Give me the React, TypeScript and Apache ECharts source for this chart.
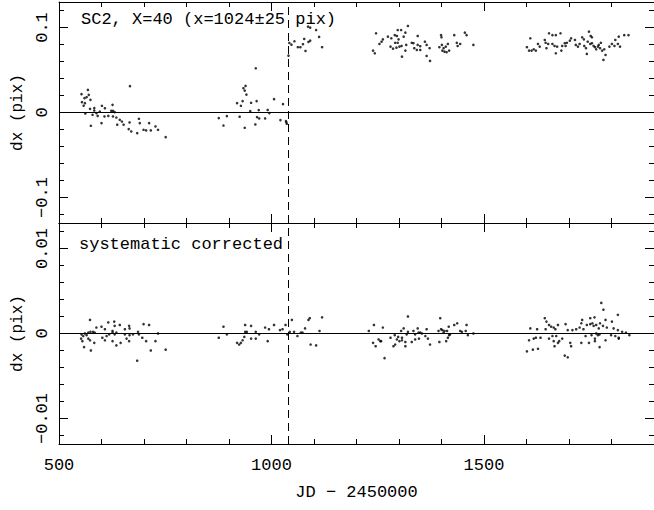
import React, { useEffect, useRef } from "react";
import * as echarts from "echarts";

// ---- axes ----
const X_MIN = 500;
const X_MAX = 1900;
const X_MAJOR = [500, 1000, 1500];
const X_MINOR = [600, 700, 800, 900, 1100, 1200, 1300, 1400, 1600, 1700, 1800];
const TOP_LIMIT = 0.13;
const TOP_MAJOR = [-0.1, 0, 0.1];
const TOP_MINOR = [-0.12, -0.08, -0.06, -0.04, -0.02, 0.02, 0.04, 0.06, 0.08, 0.12];
const BOT_LIMIT = 0.013;
const BOT_MAJOR = [-0.01, 0, 0.01];
const BOT_MINOR = [-0.012, -0.008, -0.006, -0.004, -0.002, 0.002, 0.004, 0.006, 0.008, 0.012];
const DASH_JD = 1040;

const TOP_TITLE = "SC2, X=40 (x=1024\u00b125 pix)";
const BOT_TITLE = "systematic corrected";
const Y_NAME = "dx (pix)";
const X_NAME = "JD \u2212 2450000";

// ---- data: [JD-2450000, dx] ----
const topSeason1 = [
  [667, 0.031], [568, 0.0266], [553, 0.0216], [570, 0.0208], [560, 0.0169], [574, 0.0149], [554, 0.0122],
  [561, 0.011], [573, 0.0043], [583, 0.0052], [583, 0.0023], [601, 0.0079], [608, 0.005], [626, 0.009],
  [623, 0.002], [627, 0.002], [631, 0.0005], [562, -0.0012], [579, -0.0027], [588, -0.0007], [591, -0.004],
  [607, -0.0047], [616, -0.004], [627, -0.0047], [635, -0.0059], [643, -0.0086], [575, -0.0156], [600, -0.0125],
  [637, -0.0144], [648, -0.0106], [652, -0.0144], [666, -0.0117], [664, -0.0195], [670, -0.0223], [688, -0.0074],
  [690, -0.0125], [684, -0.0242], [699, -0.0203], [705, -0.0211], [716, -0.0211], [712, -0.0125], [727, -0.0164],
  [733, -0.0203], [751, -0.0289], [558, 0.008], [565, 0.018], [596, 0.001],
];
const topSeason2 = [
  [963, 0.052], [939, 0.0313], [934, 0.0286], [937, 0.0258], [941, 0.0211], [932, 0.0134], [965, 0.0134],
  [1006, 0.0157], [919, 0.011], [928, 0.0079], [952, 0.0114], [1027, 0.0099], [950, 0.0016], [970, 0.0028],
  [991, 0.003], [995, -0.0007], [966, -0.0054], [971, -0.007], [985, -0.007], [925, -0.005], [895, -0.0042],
  [876, -0.0066], [887, -0.0153], [937, -0.018], [962, -0.0141], [1021, -0.0089], [1034, -0.0101],
  [1036, -0.0133], [1035, -0.0115],
  [1040, 0.0669], [1042, 0.0818], [1047, 0.0798], [1054, 0.0838], [1062, 0.0768], [1068, 0.0768],
  [1074, 0.0803], [1077, 0.0865], [1080, 0.0724], [1087, 0.083], [1091, 0.0845], [1086, 0.101], [1091, 0.0998],
  [1105, 0.097], [1112, 0.0889], [1119, 0.0768],
];
const topSeason3 = [
  [1321, 0.1018], [1297, 0.097], [1305, 0.097], [1315, 0.0939], [1246, 0.0932], [1290, 0.091], [1295, 0.09],
  [1311, 0.0892], [1344, 0.09], [1282, 0.0873], [1299, 0.0861], [1262, 0.0861], [1259, 0.0833], [1254, 0.0806],
  [1399, 0.091], [1400, 0.0885], [1430, 0.091], [1455, 0.0939], [1459, 0.091], [1291, 0.082], [1297, 0.082],
  [1317, 0.0795], [1330, 0.082], [1334, 0.0815], [1344, 0.0795], [1350, 0.078], [1361, 0.0833], [1365, 0.0795],
  [1372, 0.0756], [1301, 0.0775], [1306, 0.0783], [1286, 0.0751], [1315, 0.0728], [1336, 0.0756], [1342, 0.0736],
  [1350, 0.0736], [1401, 0.0795], [1395, 0.0768], [1405, 0.0756], [1410, 0.0775], [1415, 0.0806], [1407, 0.0716],
  [1412, 0.0709], [1418, 0.0728], [1402, 0.0728], [1436, 0.082], [1438, 0.0783], [1444, 0.0806], [1475, 0.0795],
  [1239, 0.0728], [1243, 0.0697], [1307, 0.0657], [1365, 0.0665], [1373, 0.0607], [1274, 0.0892], [1280, 0.0775],
  [1294, 0.0763],
];
const topSeason4 = [
  [1747, 0.0951], [1661, 0.091], [1669, 0.091], [1680, 0.0932], [1653, 0.0932], [1751, 0.09], [1754, 0.0885],
  [1830, 0.091], [1840, 0.091], [1609, 0.0873], [1705, 0.0873], [1702, 0.0845], [1731, 0.0885], [1735, 0.0861],
  [1817, 0.0892], [1809, 0.0853], [1643, 0.0853], [1645, 0.082], [1651, 0.0806], [1661, 0.0806], [1666, 0.0783],
  [1672, 0.0775], [1690, 0.0815], [1695, 0.082], [1692, 0.0783], [1684, 0.0783], [1627, 0.0806], [1631, 0.0775],
  [1617, 0.0744], [1622, 0.0728], [1612, 0.0728], [1601, 0.0768], [1606, 0.0728], [1647, 0.0756], [1669, 0.0697],
  [1682, 0.0728], [1716, 0.0795], [1721, 0.0775], [1725, 0.0806], [1744, 0.0833], [1750, 0.0806], [1754, 0.0815],
  [1758, 0.0783], [1761, 0.0768], [1764, 0.0744], [1768, 0.0775], [1773, 0.0756], [1778, 0.0728], [1783, 0.0744],
  [1770, 0.0795], [1775, 0.082], [1736, 0.0783], [1740, 0.0756], [1742, 0.0689], [1786, 0.0677], [1781, 0.0619],
  [1795, 0.0775], [1801, 0.0806], [1807, 0.0783], [1815, 0.0806], [1820, 0.0775], [1714, 0.0853],
];

const botSeason1 = [
  [573, 0.0016], [616, 0.0013], [630, 0.0014], [643, 0.001], [665, 0.0009], [699, 0.0011], [712, 0.001],
  [600, 0.0008], [588, 0.0007], [608, 0.0005], [626, 0.0003], [631, 0.0009], [655, 0.0005], [666, 0.0006],
  [553, -0.0001], [557, -0.0003], [561, 0], [565, -0.0002], [569, 0.0001], [574, 0.0002], [580, 0.0002],
  [584, 0.0001], [552, -0.0006], [555, -0.0009], [569, -0.0006], [573, -0.0008], [559, -0.0016], [575, -0.002],
  [583, -0.0011], [602, -0.0005], [608, -0.0008], [612, -0.0003], [618, -0.0001], [626, 0.0001], [631, -0.0001],
  [635, 0.0001], [626, -0.0009], [635, -0.0014], [645, -0.0011], [655, -0.0001], [666, -0.0002], [674, -0.0001],
  [665, -0.0009], [659, -0.0006], [686, 0.0002], [688, -0.0001], [696, -0.0005], [705, -0.0009], [716, -0.002],
  [727, -0.0009], [733, 0], [751, -0.0019], [684, -0.0032],
];
const botSeason2 = [
  [876, -0.0005], [887, 0.0008], [895, -0.0001], [919, -0.0011], [924, -0.0013], [928, -0.0011], [932, -0.0008],
  [936, -0.0004], [938, 0.001], [952, 0.0009], [938, 0.0002], [942, 0.0002], [952, -0.0006], [963, -0.0006],
  [971, -0.0001], [963, 0.0002], [991, -0.0009], [985, 0.0007], [994, 0.0005], [1006, 0.001], [1020, 0.0004],
  [1026, 0.0005], [1033, 0.001], [1037, -0.0001], [1043, 0.0002], [1048, 0.0016], [1053, 0.0002], [1061, -0.0003],
  [1069, 0.0001], [1073, 0.0001], [1079, 0.0006], [1087, 0.0016], [1090, 0.0018], [1092, -0.0013], [1105, -0.0014],
  [1113, 0.0003], [1119, 0.0019],
];
const botSeason3 = [
  [1229, 0.0003], [1241, 0.001], [1262, 0.0007], [1239, -0.0011], [1245, -0.0015], [1252, -0.0007], [1256, -0.0009],
  [1258, -0.0009], [1266, -0.0029], [1280, -0.0005], [1287, -0.0015], [1291, -0.0013], [1290, -0.0002],
  [1298, -0.0004], [1295, -0.0007], [1301, -0.0009], [1307, -0.0008], [1307, -0.0005], [1305, 0.0003],
  [1311, 0.0006], [1321, 0.002], [1321, 0.0002], [1318, -0.0001], [1315, -0.001], [1315, -0.0015], [1330, -0.001],
  [1334, 0.0003], [1338, -0.0001], [1344, 0.0006], [1346, 0.0001], [1350, 0.0001], [1354, 0], [1338, -0.0007],
  [1347, -0.0006], [1362, -0.0003], [1365, 0.0005], [1368, -0.0006], [1373, -0.0013], [1393, 0.0003],
  [1395, -0.001], [1397, 0.0018], [1399, 0.0005], [1402, 0.0004], [1405, 0.0001], [1407, 0.0003], [1411, -0.0009],
  [1413, 0.0003], [1415, -0.0005], [1417, 0.0008], [1418, -0.0002], [1420, -0.0001], [1430, 0.001], [1437, 0.0012],
  [1444, 0.0003], [1448, 0.0002], [1457, 0.0003], [1459, 0.001], [1462, -0.0002], [1475, 0],
];
const botSeason4 = [
  [1776, 0.0036], [1781, 0.0028], [1643, 0.0018], [1647, 0.0014], [1653, 0.001], [1731, 0.0016], [1750, 0.0018],
  [1760, 0.0019], [1773, 0.0012], [1786, 0.0016], [1801, 0.0014], [1815, 0.0022],
  [1609, 0.0006], [1625, 0.0005], [1645, 0.0005], [1658, 0.0008], [1664, 0.0007], [1668, 0.0005], [1674, 0.001],
  [1692, 0.0011], [1697, 0.0004], [1708, 0.0004], [1717, 0.0005], [1725, 0.0007], [1729, 0.0012], [1734, 0.0005],
  [1742, 0.001], [1750, 0.0011], [1755, 0.0012], [1758, 0.0009], [1764, 0.001], [1770, 0.0006], [1780, 0.0009],
  [1789, 0.0007], [1805, 0.0006], [1815, 0.0004], [1825, 0.0002], [1834, 0.0001],
  [1606, -0.0008], [1617, -0.0006], [1622, -0.0005], [1633, -0.0005], [1653, -0.0006], [1661, -0.0003],
  [1664, -0.0009], [1670, -0.0003], [1677, -0.0009], [1684, -0.0006], [1703, -0.0011], [1705, -0.0015],
  [1729, -0.0011], [1739, -0.0003], [1747, -0.0011], [1753, -0.0002], [1761, -0.0006], [1764, 0], [1768, -0.0002],
  [1772, -0.0001], [1786, -0.0008], [1799, -0.0002], [1809, -0.0003], [1817, -0.0005], [1842, -0.0002],
  [1601, -0.0021], [1615, -0.0019], [1627, -0.0018], [1666, -0.0015], [1674, -0.0011], [1690, -0.0026],
  [1697, -0.0028], [1772, -0.0016], [1761, -0.0009], [1817, -0.0006],
];

const FONT = "Liberation Mono";
const GRID_LEFT = 59;
const GRID_WIDTH = 597;
const PANEL_H = 221;
const TOP_Y = 2;

function fmt(v: number) {
  if (v === 0) return "0";
  return (v < 0 ? "\u2212" : "") + String(Math.abs(v));
}

export default function App() {
  const ref = useRef<HTMLDivElement>(null);
  useEffect(() => {
    if (!ref.current) return;
    const chart = echarts.init(ref.current, null, { renderer: "svg" });
    const black = "#000";
    const grids = [
      { left: GRID_LEFT, top: TOP_Y, width: GRID_WIDTH, height: PANEL_H },
      { left: GRID_LEFT, top: TOP_Y + PANEL_H, width: GRID_WIDTH, height: PANEL_H },
      { left: GRID_LEFT, top: TOP_Y, width: GRID_WIDTH, height: PANEL_H },
      { left: GRID_LEFT, top: TOP_Y + PANEL_H, width: GRID_WIDTH, height: PANEL_H },
    ];
    const xAxes: any[] = [];
    const yAxes: any[] = [];
    for (let g = 0; g < 4; g++) {
      const major = g < 2;
      const isBottomPanel = g % 2 === 1;
      const xVals = major ? X_MAJOR : X_MINOR;
      const yMajor = isBottomPanel ? BOT_MAJOR : TOP_MAJOR;
      const yMinor = isBottomPanel ? BOT_MINOR : TOP_MINOR;
      const yVals = major ? yMajor : yMinor;
      const lim = isBottomPanel ? BOT_LIMIT : TOP_LIMIT;
      const tickLen = major ? 9 : 5;
      for (const pos of ["bottom", "top"]) {
        const showLabel = major && isBottomPanel && pos === "bottom";
        xAxes.push({
          gridIndex: g,
          type: "value",
          position: pos,
          min: X_MIN,
          max: X_MAX,
          axisLine: { show: major, onZero: false, lineStyle: { color: black, width: 1 } },
          axisTick: { show: true, inside: true, length: tickLen, customValues: xVals, lineStyle: { color: black, width: 1 } },
          axisLabel: {
            show: showLabel,
            customValues: X_MAJOR,
            margin: 13,
            fontFamily: FONT,
            fontSize: 17,
            color: black,
            formatter: (v: number) => String(v),
          },
          splitLine: { show: false },
          name: showLabel ? X_NAME : "",
          nameLocation: "middle",
          nameGap: 40,
          nameTextStyle: { fontFamily: FONT, fontSize: 17, color: black },
        });
      }
      for (const pos of ["left", "right"]) {
        const showLabel = major && pos === "left";
        yAxes.push({
          gridIndex: g,
          type: "value",
          position: pos,
          min: -lim,
          max: lim,
          axisLine: { show: major, onZero: false, lineStyle: { color: black, width: 1 } },
          axisTick: { show: true, inside: true, length: tickLen, customValues: yVals, lineStyle: { color: black, width: 1 } },
          axisLabel: {
            show: showLabel,
            customValues: yMajor,
            rotate: 90,
            margin: 8,
            fontFamily: FONT,
            fontSize: 17,
            color: black,
            formatter: (v: number) => fmt(v),
          },
          splitLine: { show: false },
          name: showLabel ? Y_NAME : "",
          nameLocation: "middle",
          nameRotate: 90,
          nameGap: 33,
          nameTextStyle: { fontFamily: FONT, fontSize: 16, color: black },
        });
      }
    }

    const markLine = {
      silent: true,
      symbol: ["none", "none"],
      label: { show: false },
      lineStyle: { color: black, width: 1 },
      data: [
        { yAxis: 0, lineStyle: { type: "solid", color: black, width: 1 } },
        { xAxis: DASH_JD, lineStyle: { type: [8, 5], color: black, width: 1 } },
      ],
    };
    const dot = { symbol: "circle", symbolSize: 2.6, itemStyle: { color: black } };

    chart.setOption({
      animation: false,
      backgroundColor: "#fff",
      grid: grids,
      xAxis: xAxes,
      yAxis: yAxes,
      graphic: [
        {
          type: "text",
          x: 81,
          y: 19,
          style: { text: TOP_TITLE, fontFamily: FONT, fontSize: 17, fill: black, verticalAlign: "middle" },
        },
        {
          type: "text",
          x: 79,
          y: 244,
          style: { text: BOT_TITLE, fontFamily: FONT, fontSize: 17, fill: black, verticalAlign: "middle" },
        },
      ],
      series: [
        {
          type: "scatter",
          xAxisIndex: 0,
          yAxisIndex: 0,
          data: [...topSeason1, ...topSeason2, ...topSeason3, ...topSeason4],
          ...dot,
          markLine,
        },
        {
          type: "scatter",
          xAxisIndex: 2,
          yAxisIndex: 2,
          data: [...botSeason1, ...botSeason2, ...botSeason3, ...botSeason4],
          ...dot,
          markLine,
        },
      ],
    });
    return () => chart.dispose();
  }, []);
  return (
    <div
      ref={ref}
      style={{ position: "absolute", left: 0, top: 0, width: 654, height: 510, background: "#fff" }}
    />
  );
}
